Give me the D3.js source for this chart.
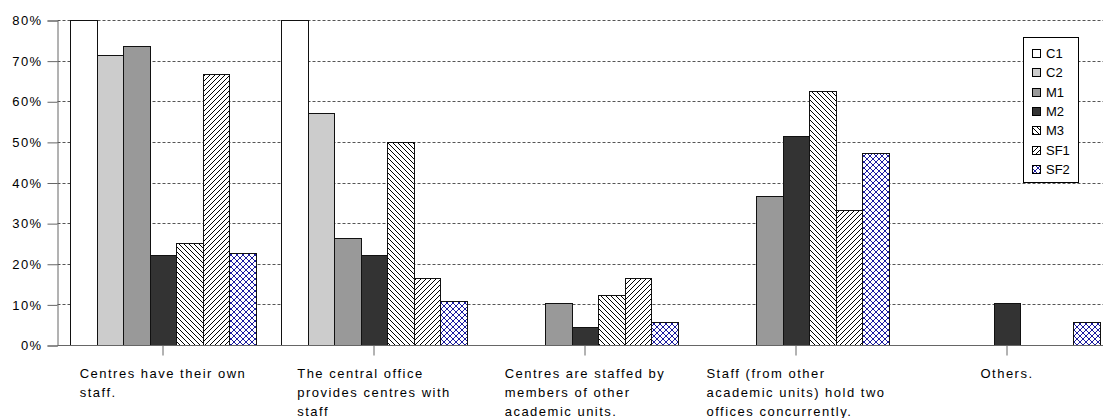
<!DOCTYPE html>
<html>
<head>
<meta charset="utf-8">
<script src="https://cdn.jsdelivr.net/npm/d3@7"></script>
<style>
  html, body { margin: 0; padding: 0; background: #fff; }
  svg { display: block; font-family: "Liberation Sans", Arial, sans-serif; }
</style>
</head>
<body>
<svg id="chart" width="1103" height="418"></svg>
<script>
// ---------- data ----------
const categories = [
  "Centres have their own\nstaff.",
  "The central office\nprovides centres with\nstaff",
  "Centres are staffed by\nmembers of other\nacademic units.",
  "Staff (from other\nacademic units) hold two\noffices concurrently.",
  "Others."
];
const seriesNames = ["C1", "C2", "M1", "M2", "M3", "SF1", "SF2"];
const C1  = [0.800, 0.800, 0.000, 0.000, 0.000];
const C2  = [0.714, 0.571, 0.000, 0.000, 0.000];
const M1  = [0.737, 0.263, 0.103, 0.367, 0.000];
const M2  = [0.222, 0.222, 0.044, 0.515, 0.103];
const M3  = [0.250, 0.500, 0.122, 0.626, 0.000];
const SF1 = [0.667, 0.164, 0.164, 0.333, 0.000];
const SF2 = [0.226, 0.109, 0.057, 0.473, 0.057];
const seriesValues = [C1, C2, M1, M2, M3, SF1, SF2];
const yTicks = [0, 0.1, 0.2, 0.3, 0.4, 0.5, 0.6, 0.7, 0.8];

(function () {
// ---------- layout ----------
const svg = d3.select("#chart");
const plotLeft = 57.5, plotTop = 20.5, plotBottom = 345.5, catW = 211;

const defs = svg.append("defs");
// M3: downward diagonal lines
const pM3 = defs.append("pattern").attr("id", "pM3").attr("patternUnits", "userSpaceOnUse")
  .attr("width", 5).attr("height", 5);
pM3.append("rect").attr("width", 5).attr("height", 5).attr("fill", "#fff");
pM3.append("path").attr("d", "M0,0L5,5M-1,4L1,6M4,-1L6,1").attr("stroke", "#000").attr("stroke-width", 1);
// SF1: upward diagonal lines
const pSF1 = defs.append("pattern").attr("id", "pSF1").attr("patternUnits", "userSpaceOnUse")
  .attr("width", 5).attr("height", 5);
pSF1.append("rect").attr("width", 5).attr("height", 5).attr("fill", "#fff");
pSF1.append("path").attr("d", "M0,5L5,0M-1,1L1,-1M4,6L6,4").attr("stroke", "#000").attr("stroke-width", 1);
// SF2: blue diagonal crosshatch
const pSF2 = defs.append("pattern").attr("id", "pSF2").attr("patternUnits", "userSpaceOnUse")
  .attr("width", 6).attr("height", 6);
pSF2.append("rect").attr("width", 6).attr("height", 6).attr("fill", "#fff");
pSF2.append("path").attr("d", "M0,0L6,6M0,6L6,0M-1,5L1,7M5,-1L7,1M-1,1L1,-1M5,7L7,5")
  .attr("stroke", "#1c1ca0").attr("stroke-width", 1);

const fills = {
  C1: "#ffffff", C2: "#cccccc", M1: "#999999", M2: "#333333",
  M3: "url(#pM3)", SF1: "url(#pSF1)", SF2: "url(#pSF2)"
};

const x0 = d3.scaleBand().domain(categories).range([plotLeft, plotLeft + catW * categories.length]);
const x1 = d3.scaleBand().domain(seriesNames).range([0, catW]).paddingInner(0).paddingOuter(0.48);
const y = d3.scaleLinear().domain([0, 0.8]).range([plotBottom, plotTop]);

// gridlines
svg.append("g").selectAll("line").data(yTicks.filter(d => d > 0)).join("line")
  .attr("x1", plotLeft).attr("x2", 1103)
  .attr("y1", d => Math.floor(y(d)) + 0.5).attr("y2", d => Math.floor(y(d)) + 0.5)
  .attr("stroke", "#555").attr("stroke-width", 1).attr("stroke-dasharray", "3,2");

// bars
const rows = [];
categories.forEach((c, i) => seriesNames.forEach((s, j) => {
  if (seriesValues[j][i] > 0) rows.push({ cat: c, series: s, value: seriesValues[j][i] });
}));
const bx = d => Math.round(x0(d.cat) + x1(d.series));
svg.append("g").selectAll("rect").data(rows).join("rect")
  .attr("x", d => bx(d) + 0.5)
  .attr("width", d => Math.round(x0(d.cat) + x1(d.series) + x1.bandwidth()) - bx(d))
  .attr("y", d => Math.floor(y(d.value)) + 0.5)
  .attr("height", d => Math.floor(plotBottom) - Math.floor(y(d.value)))
  .attr("fill", d => fills[d.series])
  .attr("stroke", "#111").attr("stroke-width", 1);

// y axis
const yAxis = d3.axisLeft(y).tickValues(yTicks).tickFormat(d3.format(".0%")).tickSize(10).tickPadding(5);
const gy = svg.append("g").attr("transform", `translate(${plotLeft},0)`).call(yAxis);
gy.select(".domain").attr("stroke", "#666");
gy.selectAll(".tick line").attr("stroke", "#666");
gy.selectAll(".tick text").attr("font-size", 13).attr("fill", "#000")
  .attr("font-family", '"Liberation Sans", Arial, sans-serif').style("letter-spacing", "1.4px")
  .attr("x", -15);

// x axis
const xAxis = d3.axisBottom(x0).tickSize(10).tickFormat("");
const gx = svg.append("g").attr("transform", `translate(0,${plotBottom})`).call(xAxis);
gx.select(".domain").attr("stroke", "#666").attr("d", `M${plotLeft},0H1103`);
gx.selectAll(".tick line").attr("stroke", "#666");

// category labels (lines left-aligned, block centred on the tick)
const labG = svg.append("g").attr("font-size", 13).style("letter-spacing", "1.5px");
categories.forEach(c => {
  const cx = x0(c) + x0.bandwidth() / 2;
  const t = labG.append("text").attr("y", 377.5).attr("fill", "#000");
  const lines = c.split("\n");
  lines.forEach((ln, k) => t.append("tspan").attr("dy", k === 0 ? 0 : 19).text(ln));
  let maxW = 0;
  t.selectAll("tspan").each(function () { maxW = Math.max(maxW, this.getComputedTextLength()); });
  t.selectAll("tspan").attr("x", cx - maxW / 2);
});

// legend
const lg = svg.append("g");
lg.append("rect").attr("x", 1023.5).attr("y", 37.5).attr("width", 55).attr("height", 145)
  .attr("fill", "#fff").attr("stroke", "#000");
seriesNames.forEach((s, i) => {
  const yy = 49 + i * 19.3;
  lg.append("rect").attr("x", 1032.5).attr("y", Math.round(yy) + 0.5).attr("width", 8).attr("height", 8)
    .attr("fill", fills[s]).attr("stroke", "#000");
  lg.append("text").attr("x", 1046).attr("y", Math.round(yy) + 9).attr("font-size", 13)
    .attr("fill", "#000").text(s);
});
})();
</script>
</body>
</html>
